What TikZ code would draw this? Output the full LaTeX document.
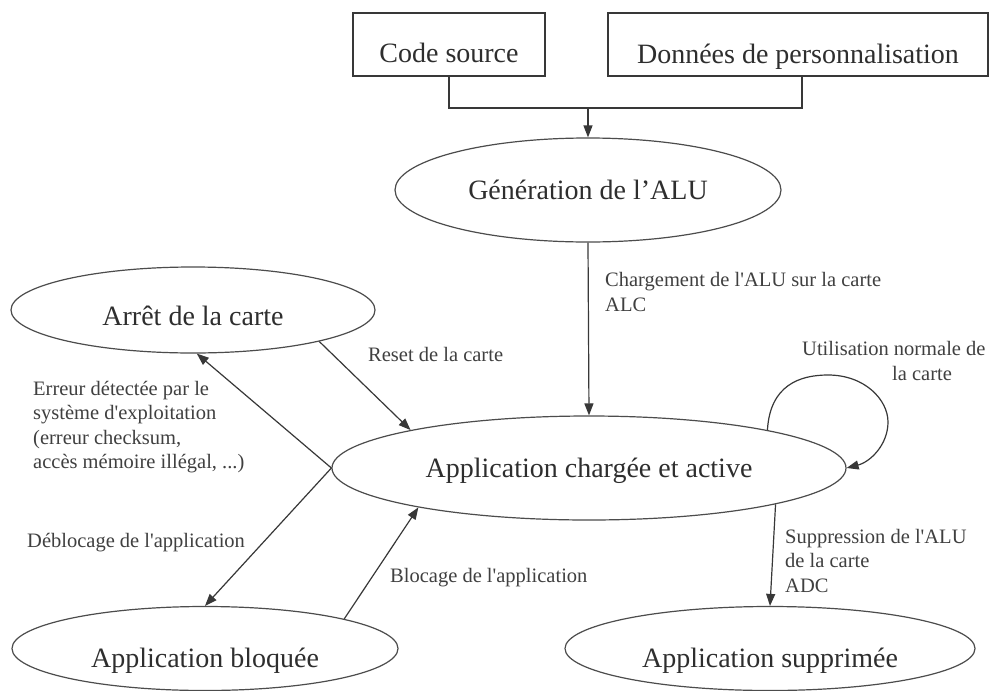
\documentclass[tikz,border=0pt]{standalone}
\usepackage{fontspec}
\setmainfont{Liberation Serif}
\usetikzlibrary{shapes.geometric,arrows.meta}

\begin{document}
\begin{tikzpicture}[x=1pt,y=-1pt,
  ink/.style={draw=black!78, line width=1.2pt},
  arr/.style={ink, -{Triangle[length=12pt,width=9pt]}},
  box/.style={rectangle, ink, inner sep=0pt, font=\fontsize{28}{30}\selectfont, text=black!82, text depth=0pt},
  state/.style={ellipse, ink, draw=black!70, inner sep=0pt, font=\fontsize{28}{30}\selectfont, text=black!82, text depth=0pt},
  lbl/.style={inner sep=0pt, anchor=base west, align=left, font=\fontsize{20.5}{24.5}\selectfont, text=black!75},
]
\useasboundingbox[fill=white] (0,0) rectangle (991,691);

% source boxes
\node[box, minimum width=192pt, minimum height=63pt, text height=35pt] (code) at (449,44.5) {Code source};
\node[box, minimum width=380pt, minimum height=63pt, text height=37pt] (don) at (798,44.5) {Données de personnalisation};

% states
\node[state, minimum width=386pt, minimum height=104pt, text height=18pt] (gen) at (588,190) {Génération de l’ALU};
\node[state, minimum width=364pt, minimum height=86pt, text height=30pt] (arret) at (193,310) {Arrêt de la carte};
\node[state, minimum width=514pt, minimum height=104pt, text height=18pt] (main) at (589,468) {Application chargée et active};
\node[state, minimum width=386pt, minimum height=84pt, text height=37pt] (bloq) at (205,648.5) {Application bloquée};
\node[state, minimum width=410pt, minimum height=84pt, text height=38pt] (supp) at (770,648.5) {Application supprimée};

% merging the two inputs
\coordinate (merge) at (588,108);
\draw[ink] (code.south) |- (merge) -| ([xshift=4pt]don.south);
\draw[arr] (merge) -- (gen.north);

% transitions
\draw[arr] (gen.south) -- (main.north);
\draw[arr] (arret.-14) -- (main.168.5);
\draw[arr] (main.west) -- (arret.-85);
\draw[arr] (main.west) -- (bloq.north);
\draw[arr] (bloq.12.4) -- (main.193);
\draw[arr] (main.-11.55) -- (supp.north);
\draw[arr] (main.12) .. controls (770,385) and (800,375) .. (828,375)
  .. controls (865,375) and (888,400) .. (888,422)
  .. controls (888,445) and (870,462) .. (main.east);

% transition labels (base anchor = baseline of the last line)
\node[lbl] (lchg) at (605,311) {Chargement de l\textquotesingle ALU sur la carte\\ALC};
\node[lbl] (lreset) at (368,361) {Reset de la carte};
\node[lbl] (luse) at (802,380) {Utilisation normale de\\\hspace*{90pt}la carte};
\node[lbl] (lerr) at (33,468.5) {Erreur détectée par le\\système d\textquotesingle exploitation\\(erreur checksum,\\accès mémoire illégal, ...)};
\node[lbl] (ldeb) at (27,547) {Déblocage de l\textquotesingle application};
\node[lbl] (lblo) at (390,582) {Blocage de l\textquotesingle application};
\node[lbl] (lsup) at (785,592) {Suppression de l\textquotesingle ALU\\de la carte\\ADC};
\end{tikzpicture}
\end{document}
